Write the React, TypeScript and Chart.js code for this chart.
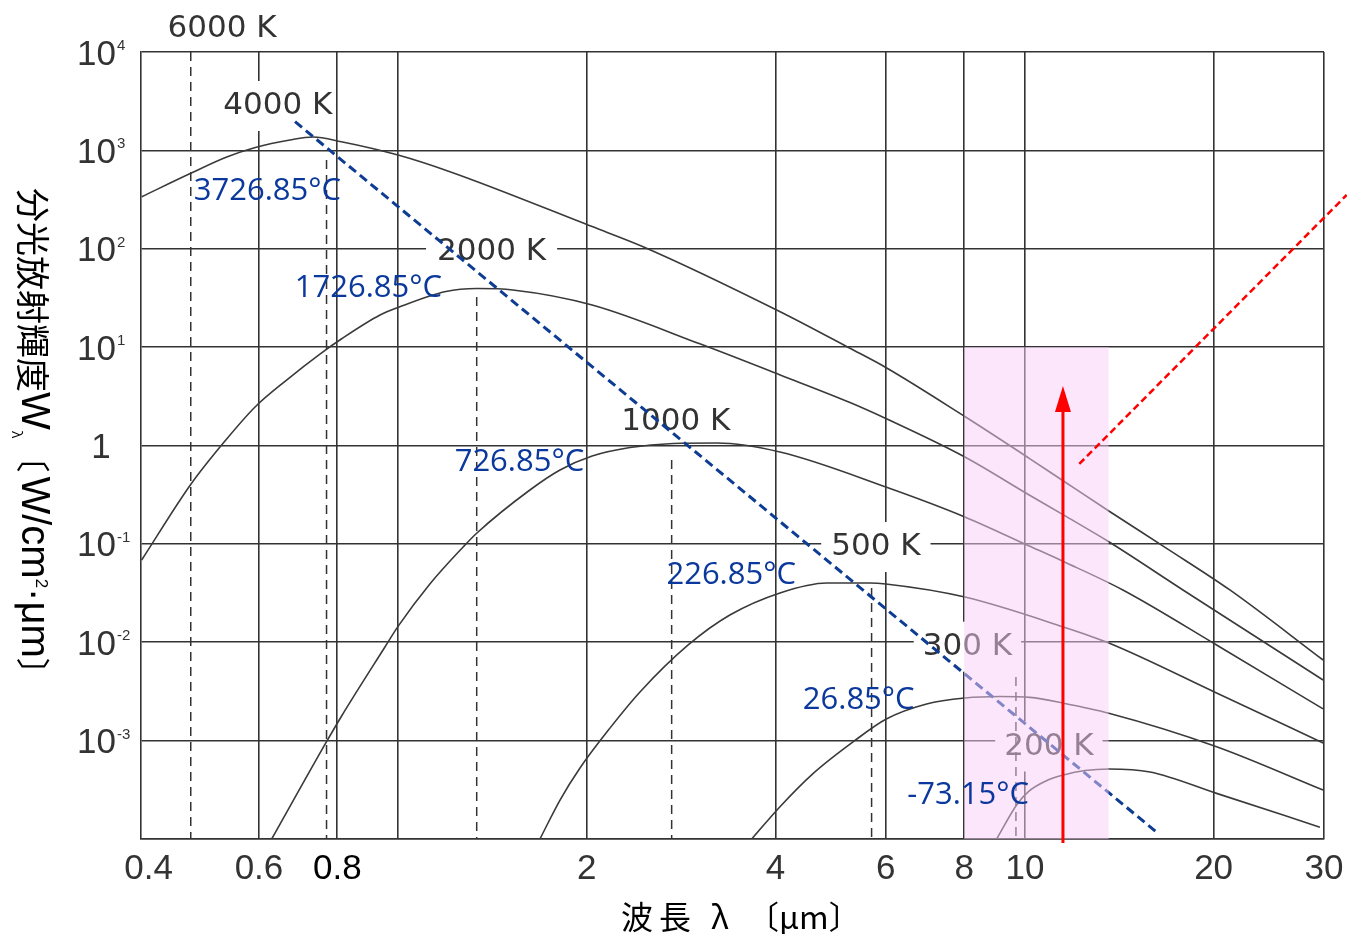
import React, { useEffect, useRef } from 'react';
import { Chart, registerables } from 'chart.js';

Chart.register(...registerables);

// ---------- axes ----------
const xMin = 0.389;
const xMax = 30;
const yMin = 1e-4;
const yMax = 1e4;
const xTickValues = [0.4, 0.6, 0.8, 1, 2, 4, 6, 8, 10, 20, 30];
const xTickLabels = ['0.4', '0.6', '0.8', '', '2', '4', '6', '8', '10', '20', '30'];
const yTickValues = [1e-4, 1e-3, 1e-2, 1e-1, 1, 1e1, 1e2, 1e3, 1e4];
const yLabelValues = [1e4, 1e3, 1e2, 1e1, 1, 1e-1, 1e-2, 1e-3];
const yLabelBase = ['10', '10', '10', '10', '1', '10', '10', '10'];
const yLabelExponent = ['4', '3', '2', '1', '', '-1', '-2', '-3'];

// ---------- black-body curves (wavelength µm, W/cm²·µm) ----------
const lambda4000 = [0.39, 0.467, 0.533, 0.592, 0.6724, 0.732, 0.812, 1.0, 1.21, 2.04, 2.46, 4.07, 5.26, 6.0, 8.02, 10.16, 11.52, 13.61, 16.83, 21.23, 29.9];
const radiance4000 = [338, 585, 856, 1069, 1275, 1368, 1225, 897, 607, 168, 105, 22.9, 9.73, 6.21, 1.97, 0.741, 0.436, 0.216, 0.09, 0.034, 0.0066];

const lambda2000 = [0.39, 0.4675, 0.5295, 0.592, 0.664, 0.7505, 0.812, 0.936, 1.0, 1.192, 1.336, 1.525, 2.04, 3.03, 4.07, 5.26, 6.0, 8.02, 10.16, 11.52, 13.61, 17.87, 29.9];
const radiance2000 = [0.0686, 0.406, 1.11, 2.48, 4.63, 8.51, 12.1, 21.2, 25.3, 36.8, 39.4, 38.1, 26.8, 10.8, 5.21, 2.735, 1.882, 0.764, 0.314, 0.197, 0.105, 0.034, 0.00413];

const lambda1000 = [0.6287, 0.769, 0.812, 0.953, 1.0, 1.124, 1.27, 1.336, 1.623, 1.813, 2.04, 2.344, 2.748, 3.226, 4.067, 6.0, 8.02, 10.16, 11.52, 14.33, 20.22, 29.9];
const radiance1000 = [1e-4, 0.000975, 0.00176, 0.00895, 0.0145, 0.0391, 0.0929, 0.129, 0.353, 0.564, 0.782, 0.954, 1.048, 1.06, 0.859, 0.379, 0.188, 0.0952, 0.0662, 0.034, 0.00938, 0.0021];

const lambda500 = [1.684, 1.813, 1.951, 2.178, 2.432, 2.903, 3.383, 4.067, 4.833, 5.658, 6.0, 8.02, 11.52, 13.61, 20.22, 29.9];
const radiance500 = [1e-4, 0.000249, 0.000527, 0.00134, 0.00312, 0.00938, 0.0189, 0.0317, 0.04, 0.04, 0.0391, 0.0288, 0.0143, 0.00983, 0.00305, 0.000946];

const lambda300 = [3.666, 4.067, 4.596, 5.323, 6.01, 6.97, 8.02, 9.123, 10.19, 11.52, 13.61, 20.22, 29.9];
const radiance300 = [1e-4, 0.000213, 0.000465, 0.000975, 0.00166, 0.00236, 0.00271, 0.00281, 0.00275, 0.0024, 0.0019, 0.000868, 0.000315];

const lambda200 = [9.015, 9.7, 10.16, 10.8, 11.52, 12.47, 13.61, 15.83, 20.22, 29.55];
const radiance200 = [1e-4, 0.000222, 0.000308, 0.000389, 0.000447, 0.000497, 0.000515, 0.00048, 0.000291, 0.000132];

// ---------- peak wavelength markers ----------
const peakLambda = [0.467, 0.769, 1.335, 2.732, 5.694, 9.676];
const peakTopW = [1e4, 800, 32.3, 0.712, 0.0356, 0.00443];

// ---------- Wien displacement line ----------
const wienLambda = [0.685, 16.26];
const wienW = [1957, 0.000116];

// ---------- red guide line, arrow and band ----------
const redLineLambda = [12.21, 32.6];
const redLineW = [0.649, 352];
const arrowLambda = 11.5;
const arrowFromW = 9.1e-5;
const arrowToW = 4.03;
const bandLambda = [8.0, 13.6];
const bandW = [1e-4, 10];

// ---------- labels ----------
const kelvinLabels = ['6000 K', '4000 K', '2000 K', '1000 K', '500 K', '300 K', '200 K'];
const kelvinLabelLambda = [0.524, 0.643, 1.41, 2.775, 5.784, 8.096, 10.92];
const kelvinLabelW = [17130, 2826, 93.8, 1.754, 0.0929, 0.00901, 0.000872];

const celsiusLabels = ['3726.85°C', '1726.85°C', '726.85°C', '226.85°C', '26.85°C', '-73.15°C'];
const celsiusLabelLambda = [0.619, 0.897, 1.562, 3.4, 5.431, 8.12];
const celsiusLabelW = [382, 39.4, 0.684, 0.0486, 0.00259, 0.00028];

const xTitleParts = ['波', '長', 'λ', '〔μm〕'];
const yTitleParts = ['分光放射輝度', 'W', 'λ', '〔', 'W/cm', '2', '·μm', '〕'];

const curveSeries = [
  { name: '4000 K', lambda: lambda4000, w: radiance4000 },
  { name: '2000 K', lambda: lambda2000, w: radiance2000 },
  { name: '1000 K', lambda: lambda1000, w: radiance1000 },
  { name: '500 K', lambda: lambda500, w: radiance500 },
  { name: '300 K', lambda: lambda300, w: radiance300 },
  { name: '200 K', lambda: lambda200, w: radiance200 },
];

const GRID = '#333333';
const TICK_COLOR = '#333333';

const annotationPlugin = {
  id: 'annotations',
  beforeDatasetsDraw(chart: any) {
    const { ctx, scales } = chart;
    const x = scales.x;
    const y = scales.y;
    ctx.save();
    ctx.font = '31px "DejaVu Sans"';
    ctx.textAlign = 'center';
    ctx.textBaseline = 'middle';
    const padXs = [0, 1, 11, 10, 10, 9, 9];
    const padYs = [0, 11, 11, 3, 11, 11, 11];
    kelvinLabels.forEach((t, i) => {
      const px = x.getPixelForValue(kelvinLabelLambda[i]);
      const py = y.getPixelForValue(kelvinLabelW[i]);
      const w = ctx.measureText(t).width;
      const padX = padXs[i];
      const padY = padYs[i];
      ctx.fillStyle = '#ffffff';
      ctx.fillRect(px - w / 2 - padX, py - 14 - padY, w + 2 * padX, 28 + 2 * padY);
      ctx.fillStyle = '#333333';
      ctx.fillText(t, px, py);
    });
    ctx.restore();
  },
  afterDatasetDraw(chart: any, args: any) {
    const ds = chart.data.datasets[args.index];
    if (!ds || ds.label !== 'wien') return;
    const { ctx, scales } = chart;
    const x = scales.x;
    const y = scales.y;
    const x0 = x.getPixelForValue(bandLambda[0]);
    const x1 = x.getPixelForValue(bandLambda[1]);
    const y0 = y.getPixelForValue(bandW[1]);
    const y1 = y.getPixelForValue(bandW[0]);
    ctx.save();
    ctx.fillStyle = 'rgba(250, 205, 250, 0.5)';
    ctx.fillRect(x0, y0, x1 - x0, y1 - y0);
    ctx.restore();
  },
  afterDatasetsDraw(chart: any) {
    const { ctx, scales } = chart;
    const x = scales.x;
    const y = scales.y;
    ctx.save();
    // red arrow
    const xa = x.getPixelForValue(arrowLambda);
    const yTip = y.getPixelForValue(arrowToW);
    const yFrom = y.getPixelForValue(arrowFromW);
    ctx.strokeStyle = '#ff0000';
    ctx.lineWidth = 3;
    ctx.beginPath();
    ctx.moveTo(xa, yFrom);
    ctx.lineTo(xa, yTip + 20);
    ctx.stroke();
    ctx.fillStyle = '#ff0000';
    ctx.beginPath();
    ctx.moveTo(xa, yTip);
    ctx.lineTo(xa - 8, yTip + 26);
    ctx.lineTo(xa + 8, yTip + 26);
    ctx.closePath();
    ctx.fill();
    // celsius labels
    ctx.font = '31px "Open Sans"';
    ctx.fillStyle = '#0a389c';
    ctx.textAlign = 'center';
    ctx.textBaseline = 'middle';
    celsiusLabels.forEach((t, i) => {
      ctx.fillText(t, x.getPixelForValue(celsiusLabelLambda[i]), y.getPixelForValue(celsiusLabelW[i]));
    });
    ctx.restore();
  },
  afterDraw(chart: any) {
    const { ctx, scales } = chart;
    const y = scales.y;
    ctx.save();
    // y tick labels with superscripts
    ctx.fillStyle = TICK_COLOR;
    ctx.textBaseline = 'alphabetic';
    yLabelValues.forEach((v, i) => {
      const py = y.getPixelForValue(v);
      ctx.font = '35px "Liberation Sans"';
      if (yLabelExponent[i] === '') {
        ctx.textAlign = 'center';
        ctx.fillText(yLabelBase[i], 101, py + 12.5);
        return;
      }
      ctx.textAlign = 'left';
      ctx.fillText(yLabelBase[i], 77, py + 12.5);
      const bw = ctx.measureText(yLabelBase[i]).width;
      ctx.font = '15px "Liberation Sans"';
      ctx.fillText(yLabelExponent[i], 77 + bw + 1, py - 2);
    });

    // x axis title
    ctx.fillStyle = '#000000';
    ctx.font = '32px "Noto Sans CJK JP"';
    ctx.textAlign = 'left';
    ctx.textBaseline = 'middle';
    const xTitleStarts = [621, 659, 711, 747];
    xTitleParts.forEach((t, i) => ctx.fillText(t, xTitleStarts[i], 917));

    // y axis title (vertical, reading top to bottom)
    const cjk = '34px "Noto Sans CJK JP"';
    const lat = '40px "Liberation Sans"';
    const segFonts = [cjk, lat, '14px "Noto Sans CJK JP"', cjk, lat, '17px "Liberation Sans"', lat, cjk];
    const segDy = [0, 0, 21, 0, 0, -8, 0, 0];
    const segBase = ['middle', 'middle', 'alphabetic', 'middle', 'middle', 'middle', 'middle', 'middle'];
    const segGapAfter = [0, 1, 0, 4, 0, 0, 0, 0];
    ctx.translate(33, 0);
    ctx.rotate(Math.PI / 2);
    ctx.textAlign = 'left';
    let cx = 188;
    yTitleParts.forEach((t, i) => {
      ctx.font = segFonts[i];
      ctx.textBaseline = segBase[i];
      ctx.fillText(t, cx, segDy[i]);
      cx += ctx.measureText(t).width + segGapAfter[i];
    });
    ctx.restore();
  },
};

function buildDatasets() {
  const sets: any[] = [];
  curveSeries.forEach((c) => {
    sets.push({
      label: c.name,
      data: c.lambda.map((l, i) => ({ x: l, y: c.w[i] })),
      borderColor: '#3a3a3a',
      borderWidth: 1.6,
      pointRadius: 0,
      cubicInterpolationMode: 'monotone',
      fill: false,
      order: 5,
    });
  });
  peakLambda.forEach((l, i) => {
    sets.push({
      label: 'peak' + i,
      data: [
        { x: l, y: peakTopW[i] },
        { x: l, y: yMin },
      ],
      borderColor: '#333333',
      borderWidth: 1.5,
      borderDash: [9, 6],
      pointRadius: 0,
      tension: 0,
      fill: false,
      order: 4,
    });
  });
  sets.push({
    label: 'wien',
    data: wienLambda.map((l, i) => ({ x: l, y: wienW[i] })),
    borderColor: '#0d3c92',
    borderWidth: 3,
    borderDash: [9, 5],
    pointRadius: 0,
    tension: 0,
    fill: false,
    order: 3,
  });
  sets.push({
    label: 'red',
    data: redLineLambda.map((l, i) => ({ x: l, y: redLineW[i] })),
    borderColor: '#ff0000',
    borderWidth: 2.5,
    borderDash: [7, 4],
    pointRadius: 0,
    tension: 0,
    fill: false,
    clip: false,
    order: 2,
  });
  return sets;
}

export default function App() {
  const canvasRef = useRef<HTMLCanvasElement | null>(null);

  useEffect(() => {
    const canvas = canvasRef.current;
    if (!canvas) return;
    const chart = new Chart(canvas, {
      type: 'line',
      data: { datasets: buildDatasets() },
      options: {
        responsive: false,
        animation: false,
        devicePixelRatio: 1,
        layout: { padding: { top: 52, right: 23, left: 0, bottom: 0 } },
        plugins: {
          legend: { display: false },
          tooltip: { enabled: false },
        },
        scales: {
          x: {
            type: 'logarithmic',
            min: xMin,
            max: xMax,
            afterBuildTicks: (scale: any) => {
              scale.ticks = xTickValues.map((v) => ({ value: v }));
            },
            afterFit: (scale: any) => {
              scale.height = 95;
              scale.paddingLeft = 0;
              scale.paddingRight = 0;
            },
            grid: {
              drawTicks: false,
              lineWidth: 1.6,
              color: (ctx: any) => (ctx.tick && ctx.tick.value === 0.4 ? 'rgba(0,0,0,0)' : GRID),
            },
            border: { display: true, color: GRID, width: 1.6 },
            ticks: {
              autoSkip: false,
              maxRotation: 0,
              padding: 9,
              font: { family: '"Liberation Sans"', size: 35 },
              color: (ctx: any) => (ctx.tick && ctx.tick.value === 0.8 ? '#000000' : TICK_COLOR),
              callback: (_v: any, i: number) => xTickLabels[i],
            },
          },
          y: {
            type: 'logarithmic',
            min: yMin,
            max: yMax,
            afterBuildTicks: (scale: any) => {
              scale.ticks = yTickValues.map((v) => ({ value: v }));
            },
            afterFit: (scale: any) => {
              scale.width = 141;
              scale.paddingTop = 0;
              scale.paddingBottom = 0;
            },
            grid: { drawTicks: false, lineWidth: 1.6, color: GRID },
            border: { display: true, color: GRID, width: 1.6 },
            ticks: { display: false },
          },
        },
      } as any,
      plugins: [annotationPlugin],
    });
    return () => chart.destroy();
  }, []);

  return (
    <div style={{ position: 'fixed', left: 0, top: 0, width: 1347, height: 934, background: '#ffffff' }}>
      <canvas ref={canvasRef} width={1347} height={934} />
    </div>
  );
}
